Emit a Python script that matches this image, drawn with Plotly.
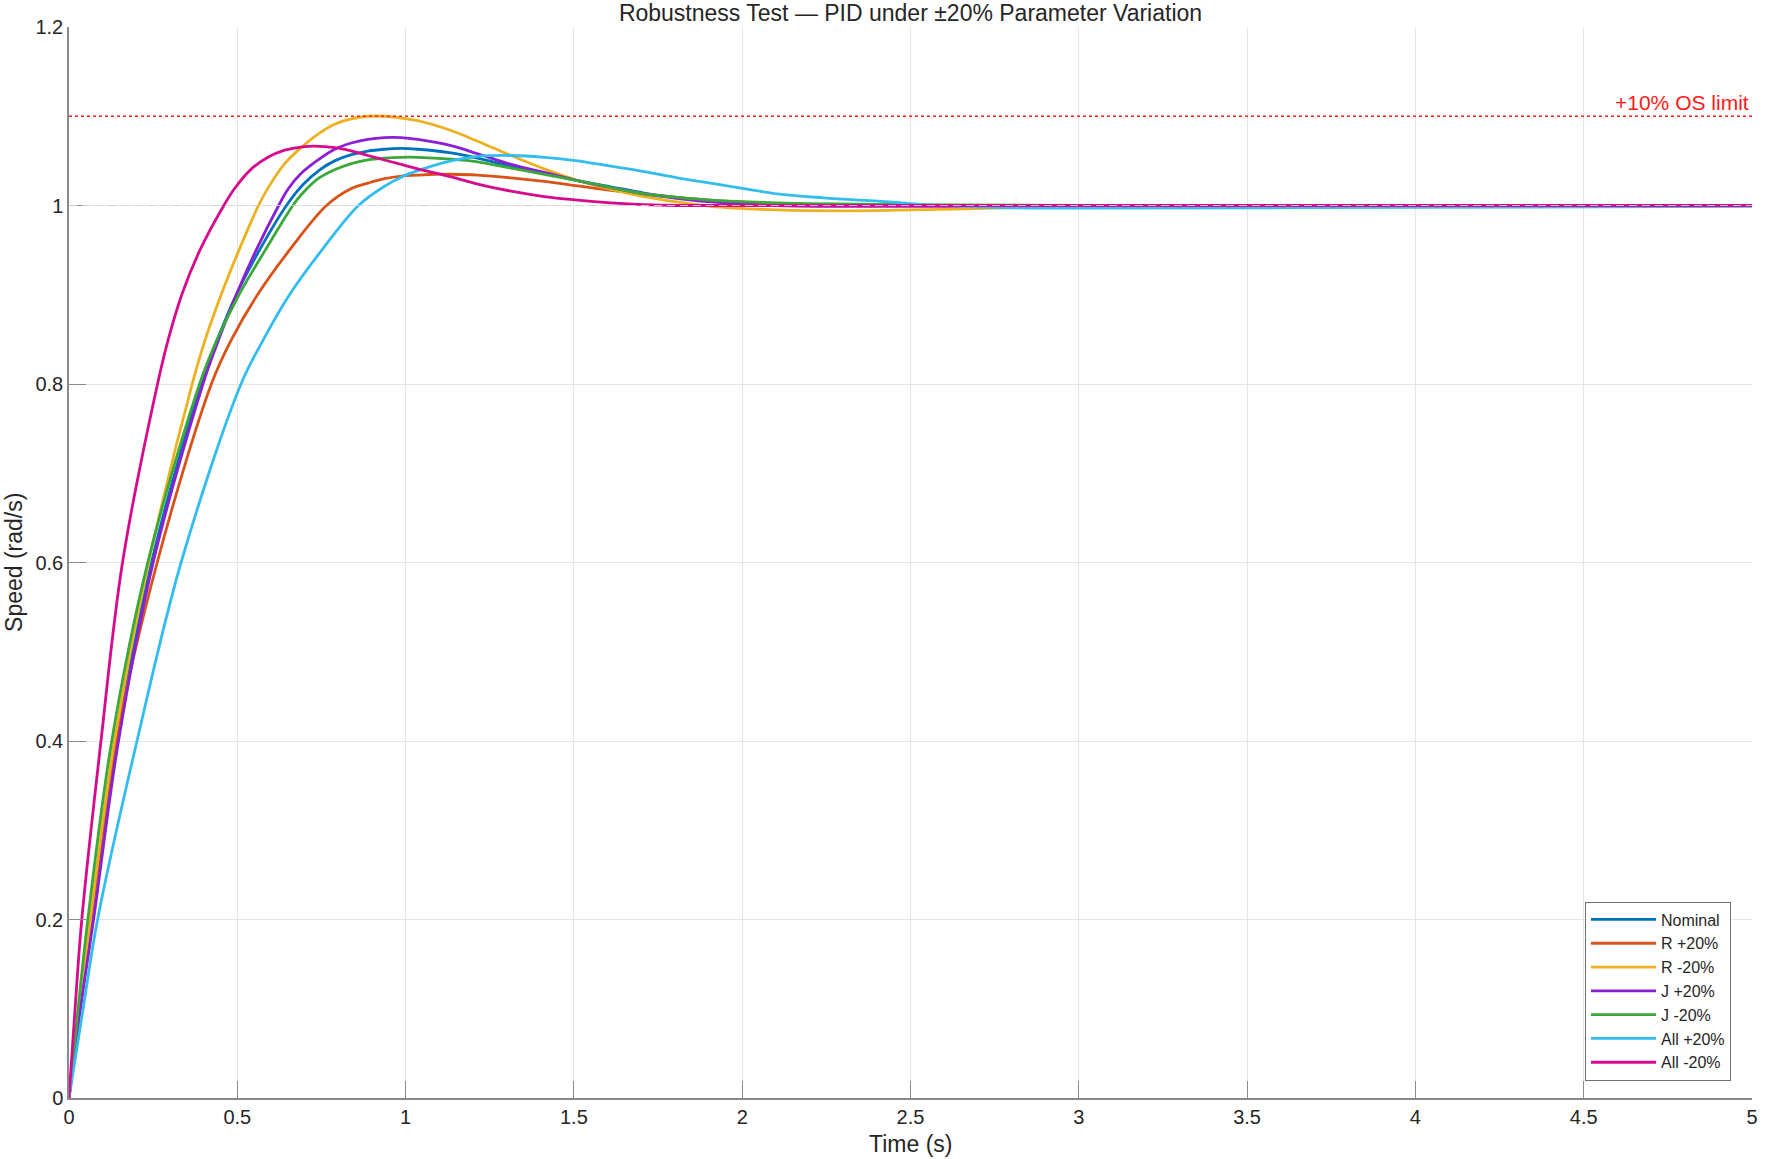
import plotly.graph_objects as go

# Step responses (time in s, speed in rad/s)
t_nominal = [0, 0.031, 0.065, 0.142, 0.245, 0.393, 0.441, 0.497, 0.566, 0.646, 0.697, 0.745, 0.789,
             0.839, 0.888, 0.937, 0.987, 1.036, 1.135, 1.214, 1.313, 1.412, 1.511, 1.610, 1.708, 1.807,
             1.906, 2.104, 2.5, 3.0, 4.0, 5.0]
y_nominal = [0, 0.1, 0.2, 0.4, 0.6, 0.8, 0.85, 0.9, 0.95, 1.0, 1.024, 1.040, 1.050,
             1.057, 1.061, 1.063, 1.064, 1.063, 1.059, 1.053, 1.044, 1.036, 1.028, 1.021, 1.014, 1.009,
             1.005, 1.001, 1.000, 1.000, 1.000, 1.000]

t_r_plus = [0, 0.031, 0.066, 0.140, 0.262, 0.423, 0.483, 0.560, 0.655, 0.765, 0.839, 0.888, 0.937,
            0.987, 1.036, 1.085, 1.135, 1.214, 1.313, 1.412, 1.511, 1.610, 1.708, 1.807, 1.906, 2.104,
            2.5, 3.0, 4.0, 5.0]
y_r_plus = [0, 0.1, 0.2, 0.4, 0.6, 0.8, 0.85, 0.9, 0.95, 1.0, 1.019, 1.025, 1.030,
            1.033, 1.034, 1.035, 1.035, 1.034, 1.031, 1.027, 1.022, 1.017, 1.013, 1.009, 1.006, 1.002,
            1.000, 0.999, 1.000, 1.000]

t_r_minus = [0, 0.030, 0.063, 0.135, 0.237, 0.366, 0.405, 0.452, 0.505, 0.563, 0.595, 0.641, 0.690,
             0.740, 0.789, 0.839, 0.888, 0.937, 0.987, 1.036, 1.135, 1.214, 1.313, 1.412, 1.511, 1.610,
             1.708, 1.807, 1.906, 2.104, 2.3, 2.5, 2.75, 3.0, 3.5, 5.0]
y_r_minus = [0, 0.1, 0.2, 0.4, 0.6, 0.8, 0.85, 0.9, 0.95, 1.0, 1.022, 1.047, 1.065,
             1.080, 1.091, 1.097, 1.100, 1.100, 1.098, 1.095, 1.084, 1.072, 1.056, 1.041, 1.028, 1.018,
             1.010, 1.004, 0.999, 0.995, 0.994, 0.995, 0.997, 0.999, 1.000, 1.000]

t_j_plus = [0, 0.034, 0.073, 0.147, 0.250, 0.398, 0.445, 0.497, 0.556, 0.623, 0.65, 0.69, 0.740,
            0.789, 0.839, 0.888, 0.937, 0.987, 1.036, 1.135, 1.214, 1.313, 1.412, 1.511, 1.610, 1.708,
            1.807, 1.906, 2.104, 2.5, 3.0, 5.0]
y_j_plus = [0, 0.1, 0.2, 0.4, 0.6, 0.8, 0.85, 0.9, 0.95, 1.0, 1.018, 1.036, 1.051,
            1.063, 1.070, 1.074, 1.076, 1.076, 1.074, 1.067, 1.058, 1.046, 1.037, 1.028, 1.020, 1.013,
            1.008, 1.004, 1.000, 0.999, 1.000, 1.000]

t_j_minus = [0, 0.027, 0.056, 0.127, 0.234, 0.388, 0.440, 0.505, 0.583, 0.665, 0.690, 0.740, 0.789,
             0.839, 0.888, 0.937, 0.987, 1.036, 1.135, 1.214, 1.313, 1.412, 1.511, 1.610, 1.708, 1.807,
             1.906, 2.104, 2.5, 3.0, 5.0]
y_j_minus = [0, 0.1, 0.2, 0.4, 0.6, 0.8, 0.85, 0.9, 0.95, 1.0, 1.012, 1.030, 1.040,
             1.047, 1.051, 1.053, 1.054, 1.054, 1.052, 1.049, 1.042, 1.035, 1.028, 1.020, 1.013, 1.009,
             1.006, 1.003, 1.001, 1.000, 1.000]

t_all_plus = [0, 0.042, 0.085, 0.202, 0.333, 0.511, 0.578, 0.655, 0.751, 0.860, 0.935, 0.988,
              1.036, 1.135, 1.214, 1.313, 1.412, 1.511, 1.610, 1.708, 1.807, 1.906, 2.005, 2.104, 2.241,
              2.438, 2.537, 2.735, 3.03, 4.0, 5.0]
y_all_plus = [0, 0.1, 0.2, 0.4, 0.6, 0.8, 0.85, 0.9, 0.95, 1.0, 1.021, 1.032,
              1.039, 1.050, 1.055, 1.056, 1.054, 1.050, 1.044, 1.038, 1.031, 1.025, 1.019, 1.013, 1.0086,
              1.004, 1.001, 0.998, 0.997, 0.998, 0.999]

t_all_minus = [0, 0.018, 0.038, 0.095, 0.159, 0.263, 0.295, 0.335, 0.389, 0.46, 0.492, 0.542, 0.591,
               0.641, 0.700, 0.760, 0.820, 0.888, 0.937, 0.987, 1.036, 1.135, 1.214, 1.313, 1.412,
               1.511, 1.610, 1.708, 1.807, 2.5, 5.0]
y_all_minus = [0, 0.1, 0.2, 0.4, 0.6, 0.8, 0.85, 0.9, 0.95, 1.0, 1.019, 1.041, 1.054,
               1.062, 1.066, 1.066, 1.063, 1.056, 1.051, 1.046, 1.041, 1.032, 1.024, 1.016, 1.010,
               1.006, 1.003, 1.001, 1.000, 1.000, 1.000]

SERIES = [
    ('Nominal', t_nominal, y_nominal, '#0072BD'),
    ('R +20%', t_r_plus, y_r_plus, '#D95319'),
    ('R -20%', t_r_minus, y_r_minus, '#EDB120'),
    ('J +20%', t_j_plus, y_j_plus, '#8B1FD6'),
    ('J -20%', t_j_minus, y_j_minus, '#3CA83A'),
    ('All +20%', t_all_plus, y_all_plus, '#33BDEF'),
    ('All -20%', t_all_minus, y_all_minus, '#D60A8C'),
]

SETPOINT = 1.0
OS_LIMIT = 1.1
x_ticks = [0, 0.5, 1, 1.5, 2, 2.5, 3, 3.5, 4, 4.5, 5]
y_ticks = [0, 0.2, 0.4, 0.6, 0.8, 1, 1.2]

FONT = 'Liberation Sans, Arial, sans-serif'
TEXT = '#262626'

fig = go.Figure()

for name, t, y, color in SERIES:
    fig.add_trace(go.Scatter(
        x=t, y=y, name=name, mode='lines',
        line=dict(color=color, width=2.8, shape='spline', smoothing=1.0),
    ))

# setpoint reference and overshoot limit
fig.add_hline(y=SETPOINT, line=dict(color='rgba(210,210,210,0.85)', width=1.2, dash='8px,5px'),
              layer='above')
fig.add_hline(y=OS_LIMIT, line=dict(color='#FF2020', width=1.5, dash='dot'), layer='above')
fig.add_annotation(
    x=5, y=OS_LIMIT, xref='x', yref='y', text='+10% OS limit', showarrow=False,
    xanchor='right', yanchor='bottom', xshift=-1, yshift=0,
    font=dict(size=21, color='#FF1A1A', family=FONT)
)

# axis labels
fig.add_annotation(
    x=0.5, y=-0.043, xref='paper', yref='paper', text='Time (s)', showarrow=False,
    xanchor='center', yanchor='middle', font=dict(size=23, color=TEXT, family=FONT)
)
fig.add_annotation(
    x=-0.033, y=0.5, xref='paper', yref='paper', text='Speed (rad/s)', showarrow=False,
    textangle=-90, xanchor='center', yanchor='middle', font=dict(size=23, color=TEXT, family=FONT)
)

fig.update_layout(
    width=1766,
    height=1159,
    title=dict(
        text='Robustness Test \u2014 PID under \u00b120% Parameter Variation',
        x=0.5, xref='paper', xanchor='center',
        y=1 - 13 / 1159, yref='container', yanchor='middle',
        font=dict(size=23, color=TEXT, family=FONT)
    ),
    xaxis=dict(
        range=[0, 5], tickvals=x_ticks, ticktext=[f'{v:g}' for v in x_ticks],
        showgrid=True, gridcolor='#E5E5E5', gridwidth=1, zeroline=False,
        showline=True, linecolor='#8A8A8A', linewidth=1.5,
        ticks='inside', ticklen=17, tickcolor='#8A8A8A', tickwidth=1.2,
        tickfont=dict(size=20, color=TEXT, family=FONT),
    ),
    yaxis=dict(
        range=[0, 1.2], tickvals=y_ticks, ticktext=[f'{v:g}' for v in y_ticks],
        showgrid=True, gridcolor='#E5E5E5', gridwidth=1, zeroline=False,
        showline=True, linecolor='#8A8A8A', linewidth=1.5,
        ticks='inside', ticklen=17, tickcolor='#8A8A8A', tickwidth=1.2,
        tickfont=dict(size=20, color=TEXT, family=FONT),
    ),
    legend=dict(
        x=0.9875, y=0.0163, xanchor='right', yanchor='bottom',
        bgcolor='white', bordercolor='#707070', borderwidth=1,
        font=dict(size=16, color=TEXT, family=FONT),
        tracegroupgap=0, itemwidth=65,
    ),
    showlegend=True,
    plot_bgcolor='white',
    paper_bgcolor='white',
    margin=dict(l=69, r=8, t=27, b=61),
)

# drop the default body margin so the figure sits at the window's corner
fig.write_html('out.html', config={'displayModeBar': False},
               post_script="document.body.style.margin='0';")
